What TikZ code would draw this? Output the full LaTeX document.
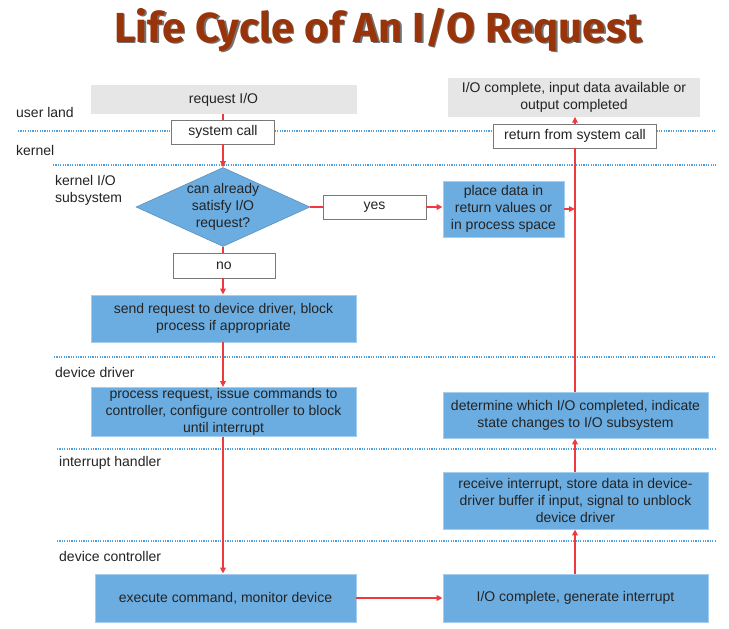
\documentclass[tikz,border=0pt]{standalone}
\usepackage{fontspec}
\setmainfont{Liberation Sans}
\newfontfamily\titlefont{Fira Sans}
\usepackage{tikz}
\usetikzlibrary{arrows.meta, positioning, shapes.geometric}
\usepackage{xcolor}
\definecolor{procblue}{RGB}{108,173,225}
\definecolor{procedge}{RGB}{165,205,238}
\definecolor{usergray}{RGB}{230,230,230}
\definecolor{callgray}{RGB}{120,120,120}
\definecolor{flowred}{RGB}{238,58,62}
\definecolor{laneblue}{RGB}{80,160,220}
\definecolor{titlered}{RGB}{153,52,10}
\definecolor{ink}{RGB}{35,35,35}

\begin{document}
\begin{tikzpicture}[
  x=1pt, y=-1pt,
  font=\fontsize{14}{17}\selectfont,
  >={Triangle[length=6pt,width=5.5pt]},
  box/.style={rectangle, inner sep=1pt, align=center, text=ink},
  procbox/.style={box, fill=procblue, draw=procedge, line width=0.8pt},
  userbox/.style={box, fill=usergray},
  callbox/.style={box, fill=white, draw=callgray, line width=0.8pt},
  decision/.style={diamond, fill=procblue, draw=procblue!80!black,
    line width=0.5pt, inner sep=0pt, minimum width=174pt, minimum height=79pt},
  layer/.style={anchor=west, inner sep=0pt, text=ink},
  flow/.style={->, draw=flowred, line width=2pt},
  link/.style={draw=flowred, line width=2pt},
  lane/.style={draw=laneblue, line width=1.2pt, dash pattern=on 1.2pt off 1.2pt},
  heading/.style={anchor=base, font=\titlefont\bfseries\fontsize{42}{48}\selectfont}
]
\useasboundingbox (0,0) rectangle (729,629);

% Title
\node[heading, text=black!55] (titleShade) at (380,43.5) {Life Cycle of An I/O Request};
\node[heading, text=titlered] (title) at (378.5,42) {Life Cycle of An I/O Request};

% Layer separators
\foreach \y/\x in {131/18, 165/53, 357/54, 449/57, 541/57}
  \draw[lane] (\x,\y) -- (716,\y);

% Layer names
\node[layer] (lUser) at (16,112) {user land};
\node[layer] (lKern) at (16,150) {kernel};
\node[layer, align=left] (lSub) at (55,190) {kernel I/O\\subsystem};
\node[layer] (lDrv) at (55,372) {device driver};
\node[layer] (lIrq) at (59,463) {interrupt handler};
\node[layer] (lCtl) at (59,556) {device controller};

% Request path (left)
\node[userbox, minimum width=266pt, minimum height=29pt] (req) at (223.5,99.5) {request I/O};
\node[callbox, minimum width=103pt, minimum height=24pt] (sysc) at (223,132) {system call};
\node[decision] (ask) at (223,207) {};
\node[box] (askTxt) at (ask) {can already\\satisfy I/O\\request?};
\node[callbox, minimum width=103pt, minimum height=24pt] (yes) at (374.5,207) {yes};
\node[callbox, minimum width=102pt, minimum height=25pt] (no) at (224,265.5) {no};
\node[procbox, minimum width=121pt, minimum height=56pt] (place) at (503.5,209) {place data in\\return values or\\in process space};
\node[procbox, minimum width=265pt, minimum height=47pt] (send) at (223.5,318.5) {send request to device driver, block\\process if appropriate};
\node[procbox, minimum width=265pt, minimum height=48pt] (proc) at (223.5,412) {process request, issue commands to\\controller, configure controller to block\\until interrupt};
\node[procbox, minimum width=261pt, minimum height=48pt] (exec) at (225.5,598) {execute command, monitor device};

% Completion path (right)
\node[procbox, minimum width=265pt, minimum height=48pt] (iodone) at (575.5,598) {I/O complete, generate interrupt};
\node[procbox, minimum width=265pt, minimum height=57pt] (recv) at (575.5,500.5) {receive interrupt, store data in device-\\driver buffer if input, signal to unblock\\device driver};
\node[procbox, minimum width=265pt, minimum height=46pt] (det) at (575.5,415) {determine which I/O completed, indicate\\state changes to I/O subsystem};
\node[callbox, minimum width=163pt, minimum height=24pt] (ret) at (575,136) {return from system call};
\node[userbox, minimum width=252pt, minimum height=39pt] (done) at (574,97) {I/O complete, input data available or\\output completed};

% Connectors
\draw[link] (sysc |- req.south) -- (sysc);
\draw[flow] (sysc) -- (ask);
\draw[link] (ask) -- (yes);
\draw[flow] (yes.east) -- (yes.east -| place.west);
\draw[link] (ask) -- (ask |- no.north);
\draw[flow] (ask |- no.south) -- (ask |- send.north);
\draw[flow] (ask |- send.south) -- (ask |- proc.north);
\draw[flow] (ask |- proc.south) -- (ask |- exec.north);
\draw[flow] (exec) -- (iodone);
\draw[flow] (ret |- iodone.north) -- (ret |- recv.south);
\draw[flow] (ret |- recv.north) -- (ret |- det.south);
\draw[link] (ret |- det.north) -- (ret);
\draw[flow] (place.east) -- (place.east -| ret.south);
\draw[flow] (ret) -- (ret.north |- done.south);

\end{tikzpicture}
\end{document}
